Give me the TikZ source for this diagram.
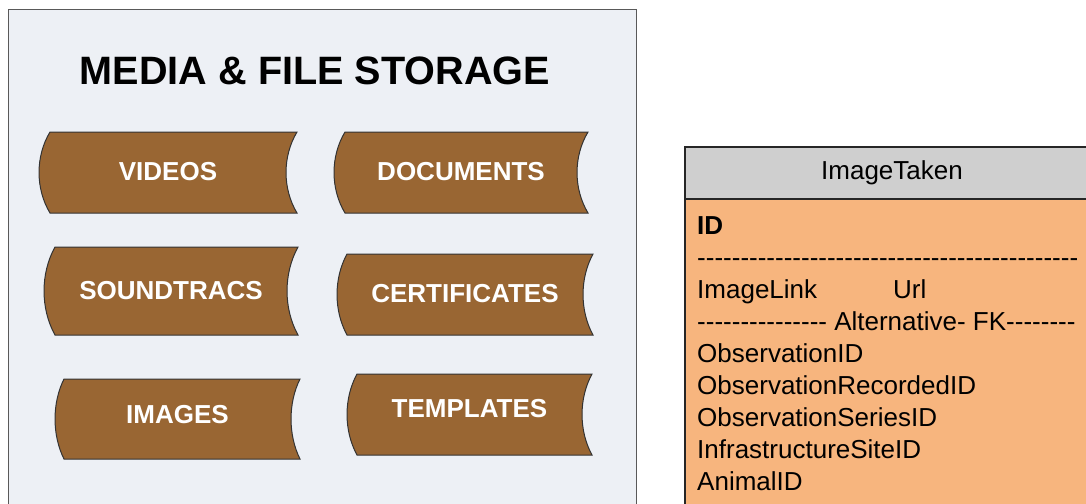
\documentclass[tikz,border=0pt]{standalone}
\usepackage{fontspec}
\setmainfont{Liberation Sans}[Ligatures=TeXOff]
\definecolor{panel}{HTML}{EDF0F5}
\definecolor{brownfill}{HTML}{996633}
\definecolor{hdrfill}{HTML}{CFCFCF}
\definecolor{bodyfill}{HTML}{F7B57E}
\tikzset{
  store/.style={fill=brownfill, draw=black!80, line width=1pt},
  storelabel/.style={text=white, font=\fontsize{26}{30}\selectfont\bfseries, inner sep=0pt},
  row/.style={anchor=base west, inner sep=0pt, font=\fontsize{26}{30}\selectfont},
  tablebox/.style={draw=black!85, line width=2pt},
}
% name, x1, x2, ytop, ybot, d, label y, label
\newcommand\storage[8]{%
  \draw[store] (#2,#4) -- (#3,#4)
    .. controls ({#3-1.33*#6},{0.7*#4+0.3*#5}) and ({#3-1.33*#6},{0.3*#4+0.7*#5}) .. (#3,#5)
    -- (#2,#5)
    .. controls ({#2-1.33*#6},{0.3*#4+0.7*#5}) and ({#2-1.33*#6},{0.7*#4+0.3*#5}) .. (#2,#4) -- cycle;
  \node[storelabel] (#1) at ({(#2-#6+#3)/2},#7) {#8};
}
\begin{document}
\begin{tikzpicture}[x=1pt,y=-1pt]
\useasboundingbox (0,0) rectangle (1086,503);
% panel
\draw[fill=panel, draw=black!65, line width=1pt] (8,10) rectangle (636,530);
\node[inner sep=0pt, font=\fontsize{39.6}{44}\selectfont\bfseries] (title) at (315,71) {MEDIA \& FILE STORAGE};
\storage{videos}{50}{297}{132}{213}{11}{172}{VIDEOS}
\storage{documents}{345}{588}{132}{213}{11}{172}{DOCUMENTS}
\storage{soundtracs}{55}{298}{247}{335}{11}{291}{SOUNDTRACS}
\storage{certificates}{347}{593}{254}{335}{10}{294}{CERTIFICATES}
\storage{images}{64}{300}{379}{459}{9}{415}{IMAGES}
\storage{templates}{357}{592}{374}{455}{10}{409}{TEMPLATES}
% table
\draw[tablebox, fill=bodyfill] (685,199) rectangle (1100,530);
\draw[tablebox, fill=hdrfill] (685,147) rectangle (1100,199);
\node[inner sep=0pt, font=\fontsize{26}{30}\selectfont] (tname) at (892,173) {ImageTaken};
\node[row, font=\fontsize{26}{30}\selectfont\bfseries] (rid) at (697,234) {ID};
\node[row] (rdash) at (697,266) {--------------------------------------------};
\node[row] (rlink) at (697,298) {ImageLink};
\node[row] (rurl) at (893,298) {Url};
\node[row] (ralt) at (697,330) {--------------- Alternative- FK--------};
\node[row] (robs) at (697,362) {ObservationID};
\node[row] (rrec) at (697,394) {ObservationRecordedID};
\node[row] (rser) at (697,426) {ObservationSeriesID};
\node[row] (rinf) at (697,458) {InfrastructureSiteID};
\node[row] (rani) at (697,490) {AnimalID};
\end{tikzpicture}
\end{document}
